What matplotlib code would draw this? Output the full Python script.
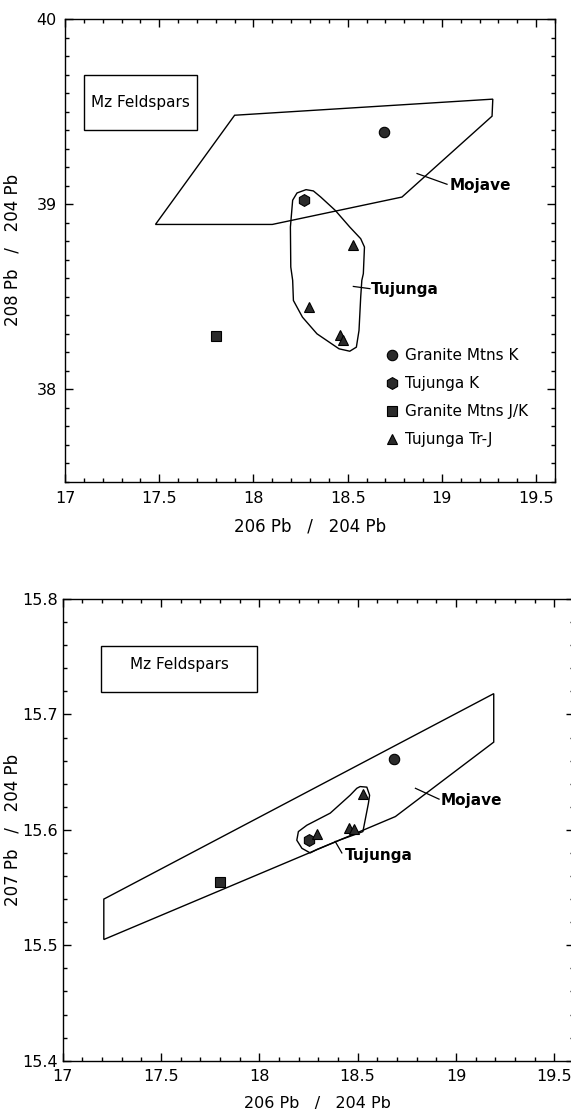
import matplotlib
matplotlib.use("Agg")
import matplotlib.pyplot as plt
from matplotlib.ticker import MultipleLocator, FuncFormatter
from matplotlib.patches import Polygon, Rectangle

plt.rcParams['font.family'] = ['DejaVu Sans']

# ---------------- data: 208Pb/204Pb vs 206Pb/204Pb (top) ----------------
granite_k_x = [18.69]
granite_k_y208 = [39.39]
tujunga_k_x = [18.27]
tujunga_k_y208 = [39.02]
granite_jk_x = [17.80]
granite_jk_y208 = [38.285]
tujunga_trj_x = [18.53, 18.293, 18.457, 18.473]
tujunga_trj_y208 = [38.777, 38.443, 38.29, 38.267]

mojave208_x = [17.48, 17.90, 19.27, 19.266, 18.788, 18.10]
mojave208_y = [38.89, 39.48, 39.567, 39.475, 39.038, 38.89]

tuj208_x = [18.279, 18.231, 18.208, 18.196, 18.198, 18.208, 18.212, 18.26, 18.337,
            18.454, 18.511, 18.546, 18.56, 18.569, 18.575, 18.583, 18.589, 18.569,
            18.511, 18.434, 18.357, 18.318]
tuj208_y = [39.078, 39.06, 39.021, 38.876, 38.66, 38.588, 38.479, 38.389, 38.299,
            38.218, 38.205, 38.227, 38.317, 38.497, 38.588, 38.624, 38.768, 38.813,
            38.876, 38.966, 39.038, 39.071]

# ---------------- data: 207Pb/204Pb vs 206Pb/204Pb (bottom) ----------------
granite_k_y207 = [15.661]
granite_k_x207 = [18.683]
tujunga_k_x207 = [18.255]
tujunga_k_y207 = [15.591]
granite_jk_x207 = [17.802]
granite_jk_y207 = [15.555]
tujunga_trj_x207 = [18.53, 18.293, 18.457, 18.483]
tujunga_trj_y207 = [15.631, 15.596, 15.602, 15.601]

mojave207_x = [17.21, 17.21, 19.192, 19.192, 18.692]
mojave207_y = [15.505, 15.54, 15.718, 15.676, 15.6115]

tuj207_x = [18.513, 18.547, 18.561, 18.555, 18.539, 18.527, 18.496, 18.411, 18.293,
            18.259, 18.217, 18.191, 18.199, 18.242, 18.361, 18.462, 18.496]
tuj207_y = [15.6375, 15.637, 15.630, 15.623, 15.609, 15.5985, 15.5965, 15.5913, 15.583,
            15.580, 15.584, 15.591, 15.5985, 15.604, 15.6145, 15.630, 15.636]

series_labels = ["Granite Mtns K", "Tujunga K", "Granite Mtns J/K", "Tujunga Tr-J"]
series_markers = ["o", "h", "s", "^"]
series_sizes = [7.5, 8.5, 7.5, 7.5]

W, H = 571, 1116
fig = plt.figure(figsize=(W / 100, H / 100), dpi=100)

MC = "#2b2b2b"
LW = 1.0


def px_axes(left, right, top, bottom):
    return [left / W, 1 - bottom / H, (right - left) / W, (bottom - top) / H]


def style_axes(ax, ymaj, ymin, ypad, xpad):
    ax.xaxis.set_major_locator(MultipleLocator(0.5))
    ax.xaxis.set_minor_locator(MultipleLocator(0.1))
    ax.yaxis.set_major_locator(MultipleLocator(ymaj))
    ax.yaxis.set_minor_locator(MultipleLocator(ymin))
    ax.xaxis.set_major_formatter(FuncFormatter(lambda v, p: "%g" % round(v, 3)))
    ax.yaxis.set_major_formatter(FuncFormatter(lambda v, p: "%g" % round(v, 3)))
    ax.tick_params(which="both", direction="in", top=True, right=True, width=1.0)
    ax.tick_params(which="major", length=5.5)
    ax.tick_params(which="minor", length=3)
    ax.tick_params(axis="y", which="major", labelsize=11.5, pad=ypad)
    ax.tick_params(axis="x", which="major", labelsize=11.5, pad=xpad)
    for s in ax.spines.values():
        s.set_linewidth(1.0)


def draw_points(ax, xs_list, ys_list, with_labels):
    for (xs, ys), m, ms, lab in zip(zip(xs_list, ys_list), series_markers, series_sizes, series_labels):
        ax.plot(xs, ys, linestyle="none", marker=m, markersize=ms,
                markerfacecolor=MC, markeredgecolor="black", markeredgewidth=0.8,
                label=lab if with_labels else None, zorder=5)


# ---------------- top axes ----------------
ax1 = fig.add_axes(px_axes(65, 555, 19, 481.7))
ax1.set_xlim(17, 19.6)
ax1.set_ylim(37.5, 40)
style_axes(ax1, 1, 0.1, 6, 7)

ax1.add_patch(Polygon(list(zip(mojave208_x, mojave208_y)), closed=True, fill=False,
                      edgecolor="black", linewidth=LW, joinstyle="miter"))
ax1.add_patch(Polygon(list(zip(tuj208_x, tuj208_y)), closed=True, fill=False,
                      edgecolor="black", linewidth=LW, joinstyle="round"))
draw_points(ax1,
            [granite_k_x, tujunga_k_x, granite_jk_x, tujunga_trj_x],
            [granite_k_y208, tujunga_k_y208, granite_jk_y208, tujunga_trj_y208], True)

ax1.add_patch(Rectangle((17.10, 39.399), 0.599, 0.298, fill=False, edgecolor="black", linewidth=LW))
ax1.text(17.3995, 39.548, "Mz Feldspars", fontsize=11, ha="center", va="center")

ax1.plot([18.868, 19.027], [39.165, 39.107], color="black", linewidth=0.9)
ax1.text(19.04, 39.098, "Mojave", fontsize=11, fontweight="bold", ha="left", va="center")
ax1.plot([18.53, 18.618], [38.555, 38.543], color="black", linewidth=0.9)
ax1.text(18.625, 38.537, "Tujunga", fontsize=11, fontweight="bold", ha="left", va="center")

leg = ax1.legend(loc="upper left", bbox_to_anchor=(0.651, 0.288), frameon=False,
                 fontsize=11, handlelength=1.0, handletextpad=0.4, labelspacing=0.85,
                 borderpad=0, borderaxespad=0, numpoints=1)

ax1.set_xlabel("206 Pb   /   204 Pb", fontsize=12)
ax1.xaxis.set_label_coords(0.5, -0.078)
ax1.set_ylabel("208 Pb   /   204 Pb", fontsize=12)
ax1.yaxis.set_label_coords(-0.088, 0.5)

# ---------------- bottom axes ----------------
ax2 = fig.add_axes(px_axes(62.5, 574, 599, 1060.7))
ax2.set_xlim(17, 19.6)
ax2.set_ylim(15.4, 15.8)
style_axes(ax2, 0.1, 0.02, 3.5, 6)

ax2.add_patch(Polygon(list(zip(mojave207_x, mojave207_y)), closed=True, fill=False,
                      edgecolor="black", linewidth=LW, joinstyle="miter"))
ax2.add_patch(Polygon(list(zip(tuj207_x, tuj207_y)), closed=True, fill=False,
                      edgecolor="black", linewidth=LW, joinstyle="round"))
draw_points(ax2,
            [granite_k_x207, tujunga_k_x207, granite_jk_x207, tujunga_trj_x207],
            [granite_k_y207, tujunga_k_y207, granite_jk_y207, tujunga_trj_y207], False)

ax2.add_patch(Rectangle((17.195, 15.7198), 0.795, 0.0398, fill=False, edgecolor="black", linewidth=LW))
ax2.text(17.5925, 15.7435, "Mz Feldspars", fontsize=11, ha="center", va="center")

ax2.plot([18.794, 18.914], [15.636, 15.6266], color="black", linewidth=0.9)
ax2.text(18.923, 15.625, "Mojave", fontsize=11, fontweight="bold", ha="left", va="center")
ax2.plot([18.386, 18.42], [15.590, 15.580], color="black", linewidth=0.9)
ax2.text(18.437, 15.578, "Tujunga", fontsize=11, fontweight="bold", ha="left", va="center")

ax2.set_xlabel("206 Pb   /   204 Pb", fontsize=11.5, va="center")
ax2.xaxis.set_label_coords(0.4976, -0.093)
ax2.set_ylabel("207 Pb   /   204 Pb", fontsize=12)
ax2.yaxis.set_label_coords(-0.081, 0.5)

fig.savefig("out.png", dpi=100)
